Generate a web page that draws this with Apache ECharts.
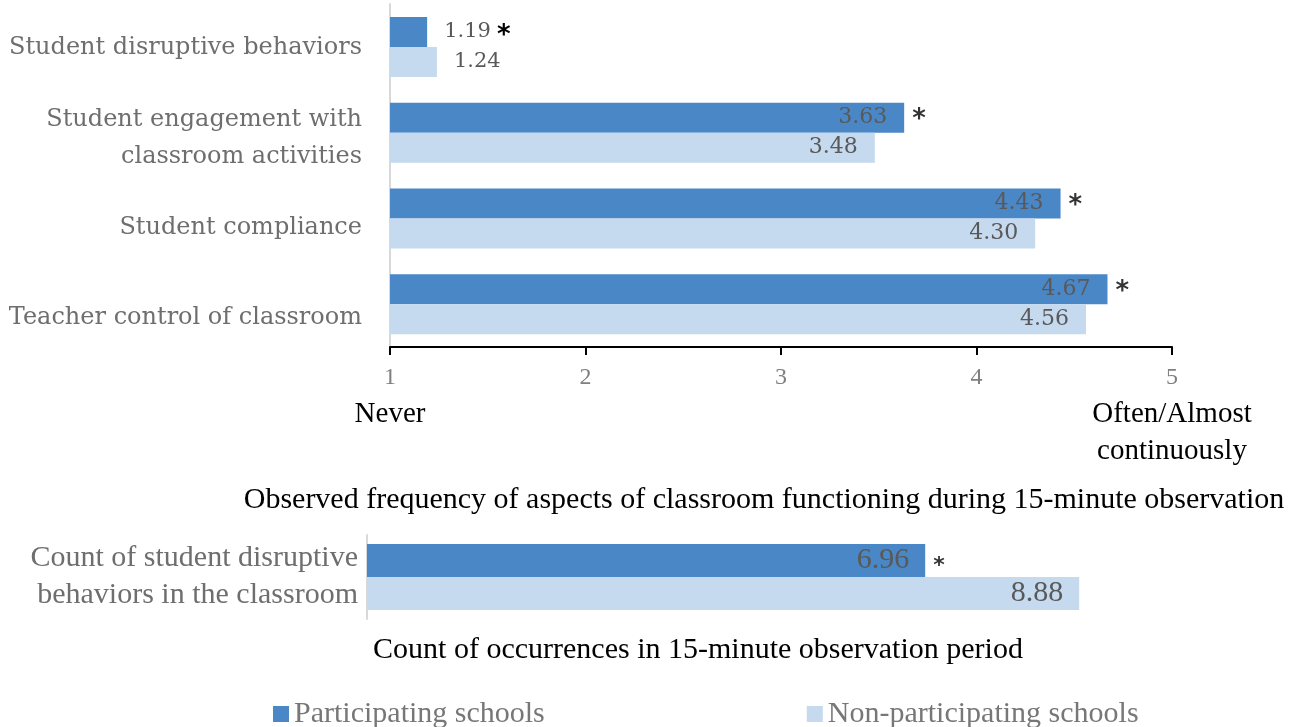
<!DOCTYPE html>
<html>
<head>
<meta charset="utf-8">
<script src="https://cdn.jsdelivr.net/npm/echarts@6/dist/echarts.min.js"></script>
<style>
  html, body { margin: 0; padding: 0; background: #fff; }
  #chart { width: 1301px; height: 727px; }
</style>
</head>
<body>
<div id="chart"></div>
<script>
// 数据
const categories = [
  'Student disruptive behaviors',
  'Student engagement with\nclassroom activities',
  'Student compliance',
  'Teacher control of classroom'
]
const participating = [1.19, 3.63, 4.43, 4.67]
const nonParticipating = [1.24, 3.48, 4.30, 4.56]
const significant = [true, true, true, true]
const scaleAnchors = { 1: ['Never'], 5: ['Often/Almost', 'continuously'] }

const countCategory = ['Count of student disruptive\nbehaviors in the classroom']
const countParticipating = [6.96]
const countNonParticipating = [8.88]
const countSignificant = [true]

const legendNames = ['Participating schools', 'Non-participating schools']
const topTitle = 'Observed frequency of aspects of classroom functioning during 15-minute observation'
const bottomTitle = 'Count of occurrences in 15-minute observation period'

const DARK = '#4a87c7'
const LIGHT = '#c5d9ef'
const SERIF = 'DejaVu Serif'
const NARROW = 'Liberation Serif'

const valueRich = {
  v: { fontFamily: SERIF, fontSize: 21, color: '#595959' },
  s: { fontFamily: 'DejaVu Sans', fontSize: 26, fontWeight: 'bold', color: '#000', padding: [8, 0, 0, 6] }
}

// 标签太短放不进柱子里时,放到右边
function barData(values, stars, minInside) {
  return values.map((v, i) => {
    if (v >= minInside) return v
    return {
      value: v,
      label: {
        position: 'right',
        distance: 17,
        formatter: stars && stars[i] ? '{v|' + v.toFixed(2) + '}{s|*}' : '{v|' + v.toFixed(2) + '}',
        rich: valueRich
      }
    }
  })
}

function starData(values, stars, minInside) {
  const out = []
  values.forEach((v, i) => {
    if (stars[i] && v >= minInside) out.push([v, i])
  })
  return out
}

const insideLabel = {
  show: true,
  position: 'insideRight',
  distance: 17,
  fontFamily: SERIF,
  fontSize: 22,
  color: '#595959',
  formatter: (p) => p.value.toFixed(2)
}

const option = {
  animation: false,
  backgroundColor: '#fff',
  legend: {
    data: legendNames,
    left: 268,
    top: 694,
    itemWidth: 16,
    itemHeight: 16,
    itemGap: 262,
    icon: 'rect',
    textStyle: { fontFamily: NARROW, fontSize: 30, color: '#777' }
  },
  grid: [
    { left: 390, width: 782, top: 4, height: 343 },
    { left: 367, width: 802, top: 535, height: 84 },
    // 分类文字单独一个网格,行距比柱子略大
    { left: 390, width: 782, top: 3, height: 360 }
  ],
  xAxis: [
    {
      gridIndex: 0,
      type: 'value',
      min: 1,
      max: 5,
      interval: 1,
      splitLine: { show: false },
      axisLine: { show: true, lineStyle: { color: '#000', width: 2 } },
      axisTick: { show: true, length: 8, lineStyle: { color: '#000', width: 2 } },
      axisLabel: {
        margin: 12,
        verticalAlign: 'top',
        formatter: (v) => {
          let s = '{t|' + v + '}'
          if (scaleAnchors[v]) s += '\n' + scaleAnchors[v].map((t) => '{n|' + t + '}').join('\n')
          return s
        },
        rich: {
          t: { fontFamily: NARROW, fontSize: 24, color: '#808080', lineHeight: 37 },
          n: { fontFamily: NARROW, fontSize: 29, color: '#000', lineHeight: 37 }
        }
      }
    },
    {
      gridIndex: 1,
      type: 'value',
      min: 0,
      max: 10,
      show: false,
      splitLine: { show: false }
    },
    {
      gridIndex: 2,
      type: 'value',
      show: false,
      splitLine: { show: false }
    }
  ],
  yAxis: [
    {
      gridIndex: 0,
      type: 'category',
      data: categories,
      inverse: true,
      axisTick: { show: false },
      axisLine: { show: true, lineStyle: { color: '#d9d9d9', width: 2 } },
      axisLabel: { show: false }
    },
    {
      gridIndex: 1,
      type: 'category',
      data: countCategory,
      inverse: true,
      axisTick: { show: false },
      axisLine: { show: true, lineStyle: { color: '#d9d9d9', width: 2 } },
      axisLabel: {
        margin: 9,
        fontFamily: NARROW,
        fontSize: 30,
        color: '#6e6e6e',
        lineHeight: 37
      }
    },
    {
      gridIndex: 2,
      type: 'category',
      data: categories,
      inverse: true,
      axisTick: { show: false },
      axisLine: { show: false },
      axisLabel: {
        margin: 28,
        fontFamily: SERIF,
        fontSize: 24,
        color: '#6e6e6e',
        lineHeight: 37
      }
    }
  ],
  series: [
    {
      name: legendNames[0],
      type: 'bar',
      xAxisIndex: 0,
      yAxisIndex: 0,
      data: barData(participating, significant, 2),
      barWidth: 30,
      barGap: '0%',
      itemStyle: { color: DARK },
      label: insideLabel
    },
    {
      name: legendNames[1],
      type: 'bar',
      xAxisIndex: 0,
      yAxisIndex: 0,
      data: barData(nonParticipating, null, 2),
      barWidth: 30,
      barGap: '0%',
      itemStyle: { color: LIGHT },
      label: insideLabel
    },
    {
      type: 'scatter',
      xAxisIndex: 0,
      yAxisIndex: 0,
      silent: true,
      symbolSize: 0,
      data: starData(participating, significant, 2),
      label: {
        show: true,
        position: 'right',
        distance: 8,
        offset: [0, -12],
        formatter: '*',
        fontFamily: 'DejaVu Sans',
        fontSize: 26,
        fontWeight: 'bold',
        color: '#000'
      }
    },
    {
      name: legendNames[0],
      type: 'bar',
      xAxisIndex: 1,
      yAxisIndex: 1,
      data: countParticipating,
      barWidth: 33,
      barGap: '0%',
      itemStyle: { color: DARK },
      label: Object.assign({}, insideLabel, { fontFamily: NARROW, fontSize: 30, distance: 16 })
    },
    {
      name: legendNames[1],
      type: 'bar',
      xAxisIndex: 1,
      yAxisIndex: 1,
      data: countNonParticipating,
      barWidth: 33,
      barGap: '0%',
      itemStyle: { color: LIGHT },
      label: Object.assign({}, insideLabel, { fontFamily: NARROW, fontSize: 30, distance: 16 })
    },
    {
      type: 'scatter',
      xAxisIndex: 1,
      yAxisIndex: 1,
      silent: true,
      symbolSize: 0,
      data: starData(countParticipating, countSignificant, 2),
      label: {
        show: true,
        position: 'right',
        distance: 8,
        offset: [0, -11],
        formatter: '*',
        fontFamily: 'DejaVu Sans',
        fontSize: 22,
        fontWeight: 'bold',
        color: '#000'
      }
    }
  ],
  graphic: [
    {
      type: 'text',
      x: 764,
      y: 500,
      style: {
        text: topTitle,
        fontFamily: NARROW,
        fontSize: 30,
        fill: '#000',
        align: 'center',
        verticalAlign: 'middle'
      }
    },
    {
      type: 'text',
      x: 698,
      y: 650,
      style: {
        text: bottomTitle,
        fontFamily: NARROW,
        fontSize: 30,
        fill: '#000',
        align: 'center',
        verticalAlign: 'middle'
      }
    }
  ]
}

const myChart = echarts.init(document.getElementById('chart'))
myChart.setOption(option, true)
</script>
</body>
</html>
